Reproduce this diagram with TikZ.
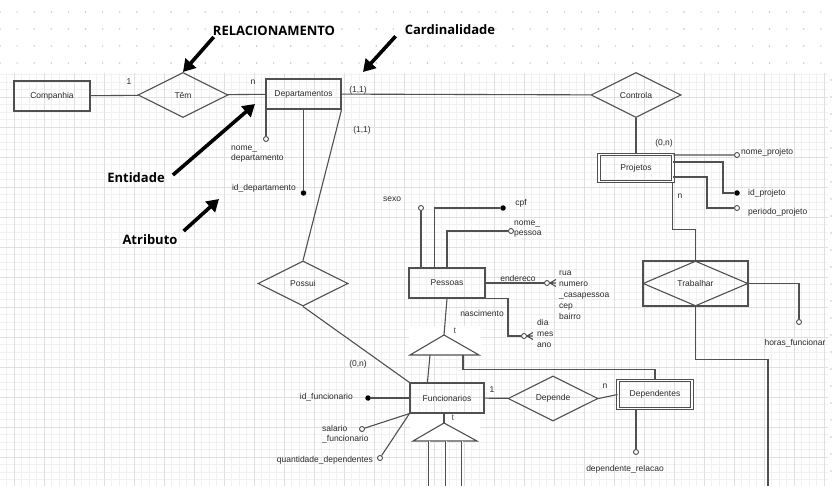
\documentclass[tikz,border=0pt]{standalone}
\usepackage{fontspec}
\setmainfont{Liberation Sans}
\newfontfamily\titfont{Open Sans}
\newfontfamily\serifa{Liberation Serif}
\usetikzlibrary{shapes.geometric, arrows.meta, calc}
\definecolor{linha}{HTML}{505050}
\definecolor{texto}{HTML}{2A2A2A}
\definecolor{grademaior}{HTML}{E0E0E0}
\definecolor{grademenor}{HTML}{F1F1F1}
\definecolor{ponto}{HTML}{C4C4C4}

\begin{document}
\begin{tikzpicture}[
        x=1pt, y=-1pt,
        every node/.style={font=\fontsize{8.5}{10}\selectfont, text=texto, inner sep=1pt},
        entidade/.style={draw=linha, line width=1.1pt, minimum width=76, minimum height=30, inner sep=0},
        fraca/.style={draw=linha, line width=0.9pt, double, double distance=1.6pt, minimum width=74, minimum height=27, inner sep=0},
        relacao/.style={diamond, draw=linha, line width=1.1pt, minimum width=90, minimum height=45, inner sep=0},
        ligacao/.style={draw=linha, line width=1.1pt},
        attr/.style={circle, draw=linha, fill=white, line width=0.9pt, minimum size=5, inner sep=0},
        chave/.style={circle, fill=black, minimum size=5.5, inner sep=0},
        card/.style={font=\fontsize{8.5}{10}\selectfont},
        lista/.style={align=left, anchor=north west, font=\fontsize{8.5}{11}\selectfont},
        rotulo/.style={font=\titfont\bfseries\fontsize{13}{15}\selectfont, text=black},
        seta/.style={line width=3.6pt, black, -{Triangle[length=12pt, width=14pt]}},
    ]
    \useasboundingbox (0,0) rectangle (832,486);

    % grade e pontos
    \foreach \gx in {0,...,109} \draw[grademenor, line width=0.6pt] (6.5+7.5*\gx,73) -- (6.5+7.5*\gx,486);
    \foreach \gy in {0,...,54} \draw[grademenor, line width=0.6pt] (0,74.5+7.5*\gy) -- (828,74.5+7.5*\gy);
    \foreach \gx in {0,...,27} \draw[grademaior, line width=0.8pt] (14+30*\gx,73) -- (14+30*\gx,486);
    \foreach \gy in {0,...,12} \draw[grademaior, line width=0.8pt] (0,97+30*\gy) -- (828,97+30*\gy);
    \foreach \dx in {0,...,48} \foreach \dy in {0,...,3} \fill[ponto] (17.1*\dx,12+17*\dy) circle (0.8);
    \foreach \dy in {0,...,23} \fill[ponto] (831,80+17*\dy) circle (0.8);

    % fundo dos triangulos
    \fill[white] (409,326) rectangle (481,356);
    \fill[white] (410,414) rectangle (480,442);

    % Entidades e relacionamentos
    \node[entidade] (comp) at (52,96) {Companhia};
    \node[relacao] (tem) at (183,95) {Têm};
    \node[entidade, minimum width=75] (dep) at (303.5,94) {Departamentos};
    \node[relacao] (contr) at (636,95) {Controla};
    \node[fraca] (proj) at (636,168) {Projetos};
    \node[relacao] (possui) at (303,283.5) {Possui};
    \node[entidade] (pes) at (447,283) {Pessoas};
    \node[entidade, minimum width=74] (func) at (447,398) {Funcionarios};
    \node[relacao] (depende) at (553,398.5) {Depende};
    \node[fraca, minimum height=28] (dpts) at (655,394.5) {Dependentes};
    \node[entidade, minimum width=105, minimum height=45] (trabbox) at (695.5,283.5) {};
    \node[relacao, minimum width=105] (trab) at (695.5,283.5) {Trabalhar};

    \draw[ligacao] (comp) -- (tem);
    \draw[ligacao] (tem) -- (dep);
    \draw[ligacao] (dep) -- (contr);
    \draw[ligacao] (contr) -- (proj);
    \draw[ligacao] (dep.south east) -- (possui.north);
    \draw[ligacao] (possui.south) -- (func.north west);
    \draw[ligacao] (func) -- (depende);
    \draw[ligacao] (depende.east) -- (dpts.west);

    % Cardinalidades
    \node[card] at (129,82) {1};
    \node[card] at (253,82) {n};
    \node[card] at (358,90) {(1,1)};
    \node[card] at (362,130) {(1,1)};
    \node[card] at (664,143) {(0,n)};
    \node[card] at (680,196) {n};
    \node[card] at (358,364) {(0,n)};
    \node[card] at (492,390) {1};
    \node[card] at (605,386) {n};

    % Departamentos
    \node[attr] (nomedep) at (266,139) {};
    \draw[ligacao] (nomedep |- dep.south) -- (nomedep);
    \node[align=left, anchor=north west] at (230,145) {nome\_\\departamento};
    \node[chave] (iddep) at (303.5,193) {};
    \draw[ligacao] (dep.south) -- (iddep);
    \node[anchor=east] at (297,188) {id\_departamento};

    % Projetos
    \node[attr] (nomeproj) at (737,155) {};
    \draw[ligacao] ($(proj.north east)+(0,1)$) -- (nomeproj);
    \node[anchor=west] at (740,152) {nome\_projeto};
    \node[chave] (idproj) at (737,193) {};
    \draw[ligacao] ($(proj.north east)+(0,8)$) -| ($(idproj)+(-14,0)$) -- (idproj);
    \node[anchor=west] at (747,193) {id\_projeto};
    \node[attr] (perproj) at (737,208) {};
    \draw[ligacao] ($(proj.north east)+(0,23)$) -| ($(perproj)+(-30,0)$) -- (perproj);
    \node[anchor=west] at (747,212) {periodo\_projeto};

    % Trabalhar
    \draw[ligacao] ($(proj.south east)+(-1,0)$) |- ($(trab.north)+(0,-31)$) -- (trab.north);
    \node[attr] (horas) at (799,322) {};
    \draw[ligacao] (trab.east) -| (horas);
    \node at (795,343) {horas\_funcionar};
    \coordinate (trabfim) at (768,486);
    \draw[ligacao] (trab.south) -- ++(0,53) -| (trabfim);

    % Pessoas
    \node[attr] (sexo) at (421,208) {};
    \draw[ligacao] (sexo |- pes.north) -- (sexo);
    \node at (392,199) {sexo};
    \node[chave] (cpf) at (503,208) {};
    \draw[ligacao] ($(pes.north west)+(26,0)$) |- (cpf);
    \node at (521,203) {cpf};
    \node[attr] (nomep) at (511,231) {};
    \draw[ligacao] (pes.north) |- (nomep);
    \node[align=left, anchor=north west] at (513,220) {nome\_\\pessoa};
    \node[attr] (ender) at (547,283) {};
    \draw[ligacao] (pes.east) -- (ender);
    \draw[ligacao] (ender.east) -- ++(6,-3.5) (ender.east) -- ++(6,0) (ender.east) -- ++(6,3.5);
    \node at (518,278) {endereco};
    \node[lista] at (558,270) {rua\\numero\\\_casapessoa\\cep\\bairro};
    \node[attr] (nasc) at (524,336) {};
    \draw[ligacao] (pes.south east) -| ($(nasc)+(-16,0)$) -- (nasc);
    \draw[ligacao] (nasc.east) -- ++(6,-3.5) (nasc.east) -- ++(6,0) (nasc.east) -- ++(6,3.5);
    \node at (482,313) {nascimento};
    \node[lista] at (536,318) {dia\\mes\\ano};

    % Especializacao Pessoas -> Funcionarios
    \coordinate (supT) at (444,335);
    \coordinate (supE) at (410,355);
    \coordinate (supD) at (479,355);
    \draw[ligacao] (supT) -- (supD) -- (supE) -- cycle;
    \node[font=\serifa\fontsize{10}{10}\selectfont, text=linha] at (455,331) {t};
    \draw[ligacao] (pes.south) -- (supT);
    \coordinate (supB1) at (430,355);
    \coordinate (supB2) at (463,355);
    \draw[ligacao] (supB1) -- ($(func.north west)+(18,0)$);
    \draw[ligacao] (supB2) |- ($(dpts.north)+(0,-11)$) -- (dpts.north);

    % Especializacao Funcionarios
    \coordinate (infT) at (444,423);
    \coordinate (infE) at (413,441);
    \coordinate (infD) at (477,441);
    \draw[ligacao] (infT) -- (infD) -- (infE) -- cycle;
    \node[font=\serifa\fontsize{10}{10}\selectfont, text=linha] at (453,418) {t};
    \draw[ligacao] (infT |- func.south) -- (infT);
    \foreach \lx [count=\i] in {429,446,462} {
        \coordinate (infB\i) at (\lx,441);
        \coordinate (infF\i) at (\lx,486);
        \draw[draw=linha, line width=0.8pt, double, double distance=1pt] (infB\i) -- (infF\i);
    }

    % Funcionarios
    \node[chave] (idf) at (368,398) {};
    \draw[ligacao] (func.west) -- (idf);
    \node[anchor=east] at (354,397) {id\_funcionario};
    \node[attr] (sal) at (362,429) {};
    \draw[ligacao] (func.south west) -- (sal);
    \node[align=left, anchor=north west] at (321,424) {salario\\\_funcionario};
    \node[attr] (qtd) at (380,458) {};
    \draw[ligacao] (func.south west) -- (qtd);
    \node[anchor=east] at (374,460) {quantidade\_dependentes};

    % Dependentes
    \node[attr] (deprel) at (636,452) {};
    \draw[ligacao] (deprel |- dpts.south) -- (deprel);
    \node at (625,469) {dependente\_relacao};

    % Rotulos e setas
    \node[rotulo] (trel) at (274,31) {RELACIONAMENTO};
    \node[rotulo] (tcard) at (450,30) {Cardinalidade};
    \node[rotulo] (tent) at (136,178) {Entidade};
    \node[rotulo] (tatr) at (150,240) {Atributo};
    \coordinate (pRel) at (183,72);
    \coordinate (pCard) at (363,72);
    \coordinate (pEnt) at (255,104);
    \coordinate (pAtr) at (219,199);
    \draw[seta] ([xshift=2pt]trel.south west) -- (pRel);
    \draw[seta] ([xshift=-8pt]tcard.south west) -- (pCard);
    \draw[seta] ([xshift=7pt,yshift=3pt]tent.east) -- (pEnt);
    \draw[seta] ([xshift=5pt,yshift=9pt]tatr.east) -- (pAtr);
\end{tikzpicture}
\end{document}
